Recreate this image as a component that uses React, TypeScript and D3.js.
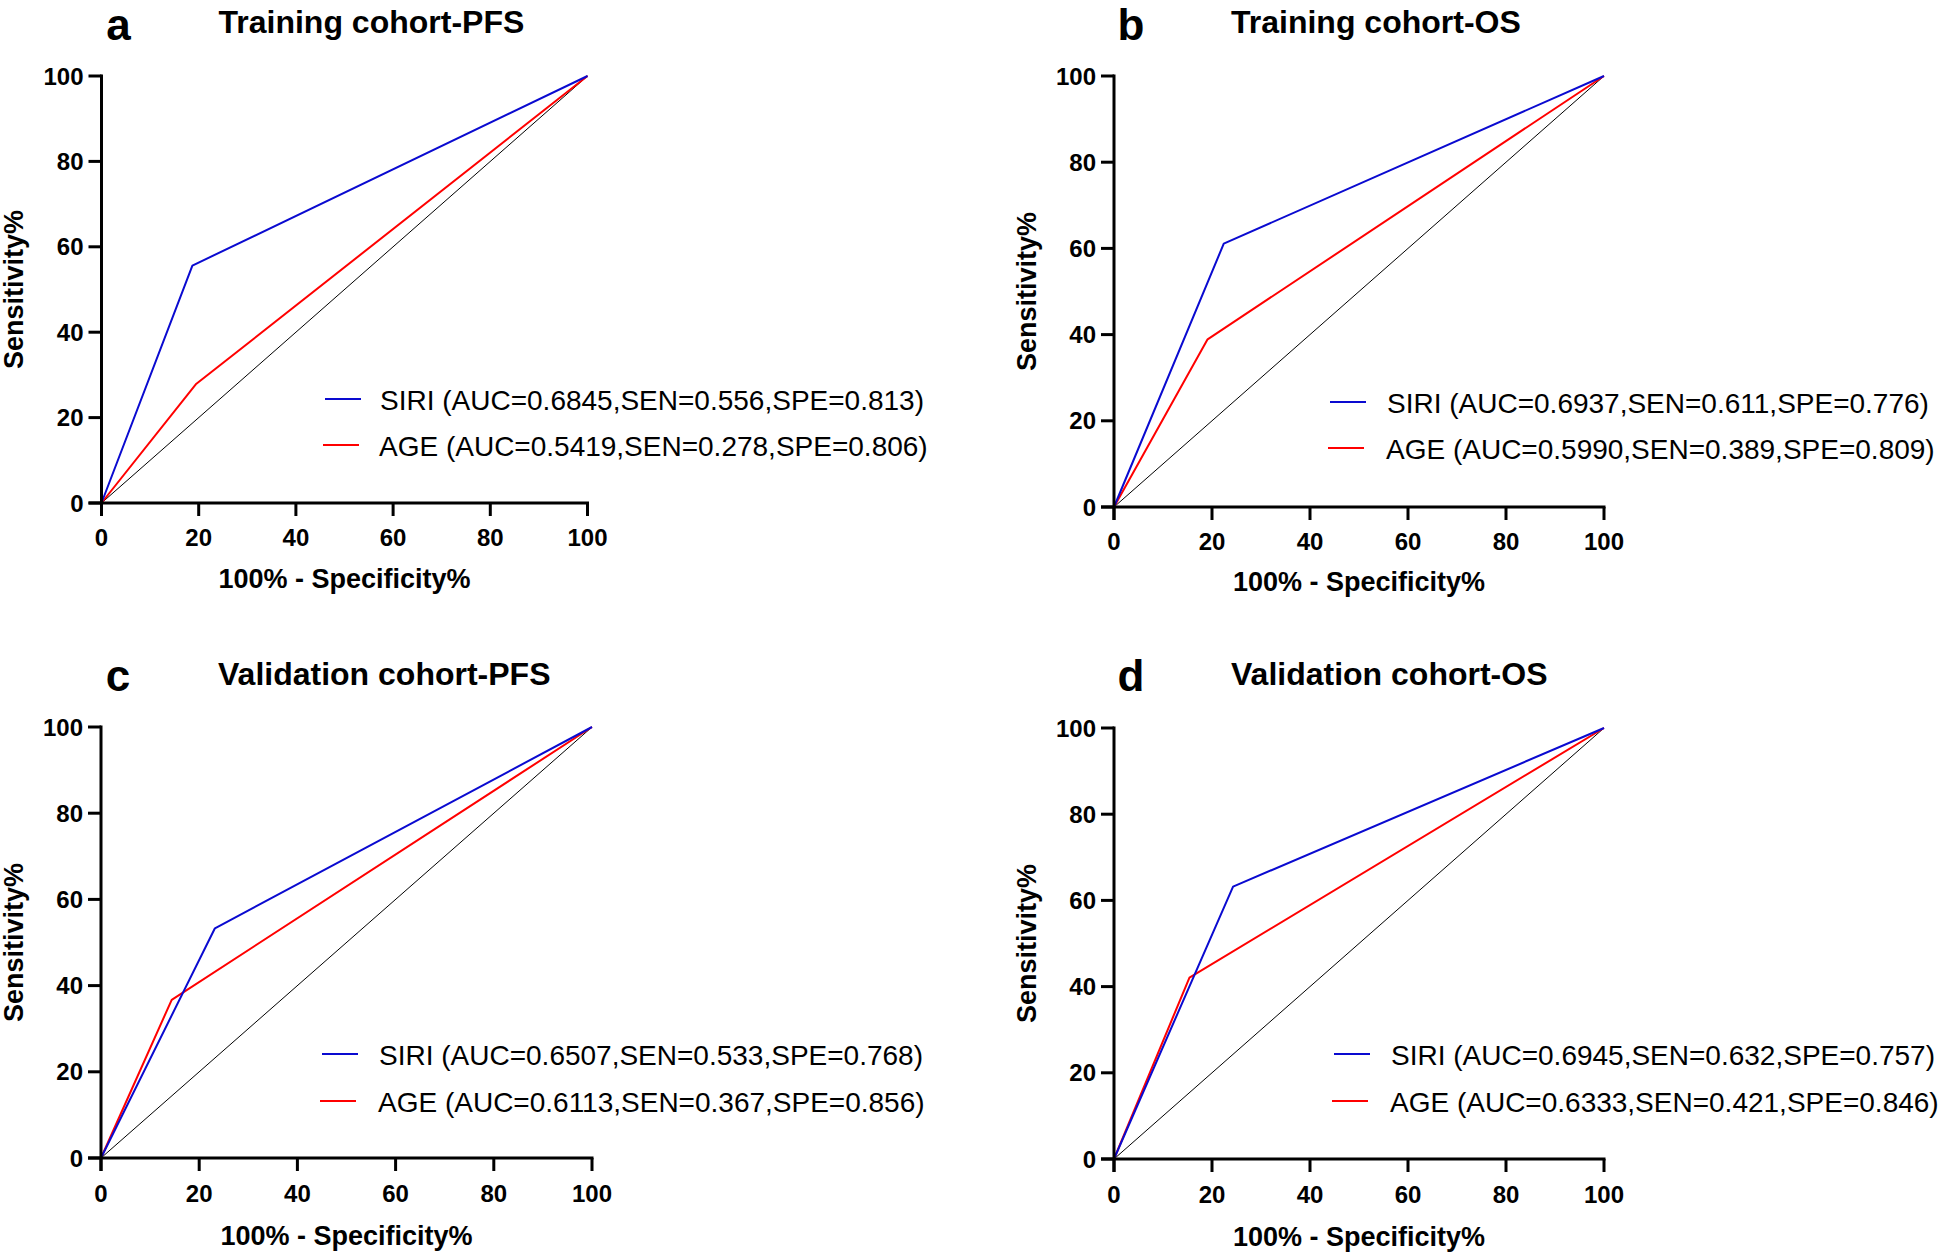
import React from "react";
import * as d3 from "d3";

// ---- Data ----
const panelLetters = ["a", "b", "c", "d"];
const panelTitles = [
  "Training cohort-PFS",
  "Training cohort-OS",
  "Validation cohort-PFS",
  "Validation cohort-OS",
];
// ROC points [100% - Specificity%, Sensitivity%]
const siriCurves: [number, number][][] = [
  [[0, 0], [18.7, 55.6], [100, 100]],
  [[0, 0], [22.4, 61.1], [100, 100]],
  [[0, 0], [23.2, 53.3], [100, 100]],
  [[0, 0], [24.3, 63.2], [100, 100]],
];
const ageCurves: [number, number][][] = [
  [[0, 0], [19.4, 27.8], [100, 100]],
  [[0, 0], [19.1, 38.9], [100, 100]],
  [[0, 0], [14.4, 36.7], [100, 100]],
  [[0, 0], [15.4, 42.1], [100, 100]],
];
const referenceLine: [number, number][] = [[0, 0], [100, 100]];
const siriLabels = [
  "SIRI (AUC=0.6845,SEN=0.556,SPE=0.813)",
  "SIRI (AUC=0.6937,SEN=0.611,SPE=0.776)",
  "SIRI (AUC=0.6507,SEN=0.533,SPE=0.768)",
  "SIRI (AUC=0.6945,SEN=0.632,SPE=0.757)",
];
const ageLabels = [
  "AGE (AUC=0.5419,SEN=0.278,SPE=0.806)",
  "AGE (AUC=0.5990,SEN=0.389,SPE=0.809)",
  "AGE (AUC=0.6113,SEN=0.367,SPE=0.856)",
  "AGE (AUC=0.6333,SEN=0.421,SPE=0.846)",
];
const tickValues = [0, 20, 40, 60, 80, 100];
const xAxisTitle = "100% - Specificity%";
const yAxisTitle = "Sensitivity%";

// ---- Layout (pixel positions) ----
const layouts = [
  { x0: 101.5, x1: 587.5, y0: 503, y1: 76, titleY: 33, letterY: 40, legX: 325, legTextX: 380, legY1: 399, legY2: 445, tickLabelY: 546, xTitleY: 588, yTitleX: 23 },
  { x0: 1114, x1: 1604, y0: 507, y1: 76, titleY: 33, letterY: 40, legX: 1330, legTextX: 1387, legY1: 402, legY2: 448, tickLabelY: 550, xTitleY: 591, yTitleX: 1036 },
  { x0: 101, x1: 592, y0: 1158, y1: 727, titleY: 685, letterY: 691, legX: 322, legTextX: 379, legY1: 1054, legY2: 1101, tickLabelY: 1202, xTitleY: 1245, yTitleX: 23 },
  { x0: 1114, x1: 1604, y0: 1159, y1: 728, titleY: 685, letterY: 691, legX: 1334, legTextX: 1391, legY1: 1054, legY2: 1101, tickLabelY: 1203, xTitleY: 1246, yTitleX: 1036 },
];

const FONT = "'Liberation Sans', Arial, Helvetica, sans-serif";
const BLUE = "#0a0ad0";
const RED = "#ff0000";

function Panel({ i }: { i: number }) {
  const L = layouts[i];
  const x = d3.scaleLinear().domain([0, 100]).range([L.x0, L.x1]);
  const y = d3.scaleLinear().domain([0, 100]).range([L.y0, L.y1]);
  const line = d3
    .line<[number, number]>()
    .x((d) => x(d[0]))
    .y((d) => y(d[1]));
  const tickLen = 13;
  const axisW = 3;
  const cx = (L.x0 + L.x1) / 2;
  const cy = (L.y0 + L.y1) / 2;
  return (
    <g>
      {/* panel letter and title */}
      <text x={L.x0 + 17} y={L.letterY} fontFamily={FONT} fontWeight="bold" fontSize={44} textAnchor="middle">
        {panelLetters[i]}
      </text>
      <text x={L.x0 + 117} y={L.titleY} fontFamily={FONT} fontWeight="bold" fontSize={32} textAnchor="start">
        {panelTitles[i]}
      </text>

      {/* curves */}
      <path d={line(referenceLine) || ""} fill="none" stroke="#000" strokeWidth={1} />
      <path d={line(ageCurves[i]) || ""} fill="none" stroke={RED} strokeWidth={2} strokeLinejoin="round" />
      <path d={line(siriCurves[i]) || ""} fill="none" stroke={BLUE} strokeWidth={2} strokeLinejoin="round" />

      {/* axes */}
      <line x1={L.x0} x2={L.x0} y1={L.y1 - 1.5} y2={L.y0 + tickLen} stroke="#000" strokeWidth={axisW} />
      <line x1={L.x0 - tickLen} x2={L.x1 + 1.5} y1={L.y0} y2={L.y0} stroke="#000" strokeWidth={axisW} />
      {tickValues.map((t) => (
        <g key={"y" + t}>
          <line x1={L.x0 - tickLen} x2={L.x0} y1={y(t)} y2={y(t)} stroke="#000" strokeWidth={axisW} />
          <text x={L.x0 - 18} y={y(t) + 8.5} fontFamily={FONT} fontWeight="bold" fontSize={24} textAnchor="end">
            {t}
          </text>
        </g>
      ))}
      {tickValues.map((t) => (
        <g key={"x" + t}>
          <line x1={x(t)} x2={x(t)} y1={L.y0} y2={L.y0 + tickLen} stroke="#000" strokeWidth={axisW} />
          <text x={x(t)} y={L.tickLabelY} fontFamily={FONT} fontWeight="bold" fontSize={24} textAnchor="middle">
            {t}
          </text>
        </g>
      ))}
      <text x={cx} y={L.xTitleY} fontFamily={FONT} fontWeight="bold" fontSize={27} textAnchor="middle">
        {xAxisTitle}
      </text>
      <text
        transform={`translate(${L.yTitleX},${cy}) rotate(-90)`}
        fontFamily={FONT}
        fontWeight="bold"
        fontSize={27}
        textAnchor="middle"
      >
        {yAxisTitle}
      </text>

      {/* legend */}
      <line x1={L.legX} x2={L.legX + 36} y1={L.legY1} y2={L.legY1} stroke={BLUE} strokeWidth={2} />
      <text x={L.legTextX} y={L.legY1 + 11} fontFamily={FONT} fontSize={28}>
        {siriLabels[i]}
      </text>
      <line x1={L.legX - 2} x2={L.legX + 34} y1={L.legY2} y2={L.legY2} stroke={RED} strokeWidth={2} />
      <text x={L.legTextX - 1} y={L.legY2 + 11} fontFamily={FONT} fontSize={28}>
        {ageLabels[i]}
      </text>
    </g>
  );
}

export default function App() {
  return (
    <svg
      width={1944}
      height={1252}
      viewBox="0 0 1944 1252"
      style={{ position: "absolute", left: 0, top: 0, background: "#fff" }}
    >
      <rect x={0} y={0} width={1944} height={1252} fill="#fff" />
      {panelTitles.map((_, i) => (
        <Panel key={i} i={i} />
      ))}
    </svg>
  );
}
